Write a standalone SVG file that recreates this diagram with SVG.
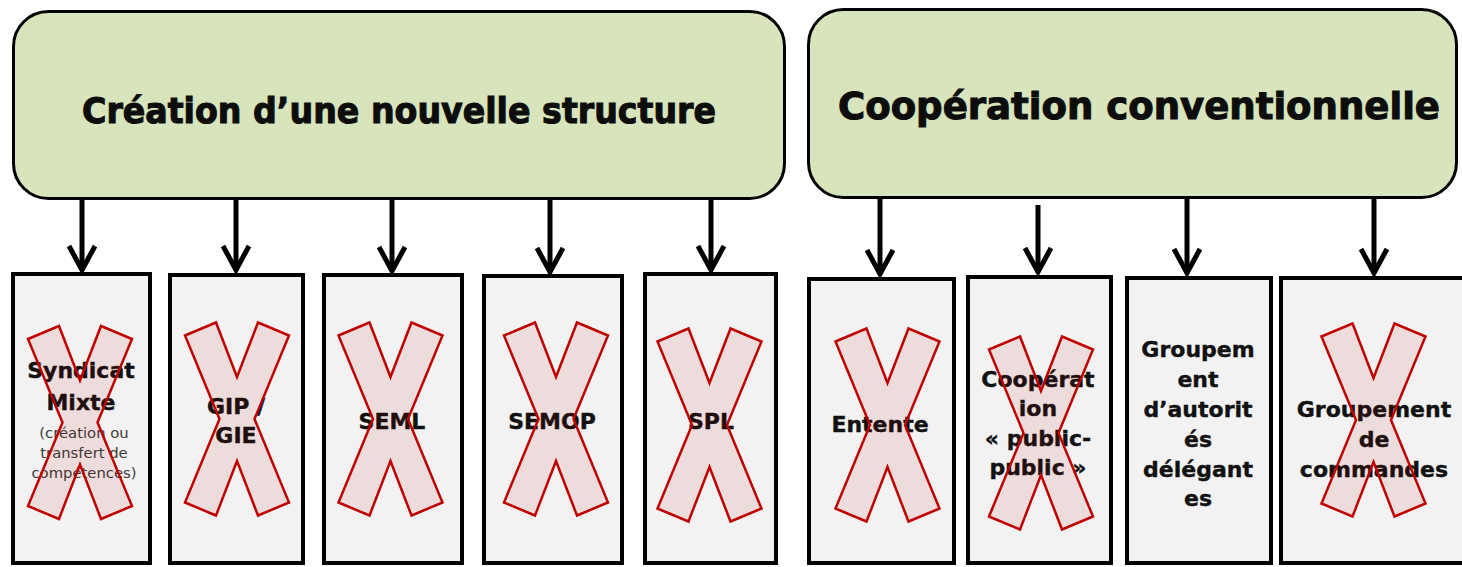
<svg xmlns="http://www.w3.org/2000/svg" width="1462" height="567" viewBox="0 0 1462 567">
<style>
.hdr{fill:#d7e4bc;stroke:#000;stroke-width:3}
.htxt{font-family:"DejaVu Sans",Verdana,sans-serif;font-weight:bold;fill:#0d0d0d;stroke:#0d0d0d;stroke-width:1.1;text-anchor:middle}
.box{fill:#f2f2f2;stroke:#000;stroke-width:4}
.lbl{font-family:"DejaVu Sans",Verdana,sans-serif;font-weight:bold;font-size:22px;fill:#111;stroke:#111;stroke-width:0.4;text-anchor:middle}
.small{font-family:"DejaVu Sans",Verdana,sans-serif;font-size:14.8px;fill:#3a3a3a;text-anchor:middle}
.x{fill:#c00000;fill-opacity:0.09;stroke:#c00000;stroke-width:2.5;stroke-linejoin:miter}
.arr line,.arr path{fill:none;stroke:#000;stroke-width:5}
</style>
<defs>
<path id="cross" d="M-52,-83.5 L-21,-96.5 L0,-42 L21,-96.5 L52,-83.5 L17.5,0 L52,83.5 L21,96.5 L0,42 L-21,96.5 L-52,83.5 L-17.5,0 Z"/>
</defs>

<g id="header-creation">
<rect class="hdr" x="13.5" y="11.5" width="771" height="187" rx="35"/>
<text class="htxt" x="399" y="123" font-size="36" textLength="634" lengthAdjust="spacingAndGlyphs">Création d’une nouvelle structure</text>
</g>
<g id="header-cooperation">
<rect class="hdr" x="808.5" y="9.5" width="648" height="188" rx="35"/>
<text class="htxt" x="1139" y="119" font-size="38" textLength="602" lengthAdjust="spacingAndGlyphs">Coopération conventionnelle</text>
</g>

<g id="connectors" class="arr">
<line x1="82" y1="200" x2="82" y2="269"/><path d="M69,246 L82,270 L95,246"/>
<line x1="236" y1="200" x2="236" y2="269"/><path d="M223,246 L236,270 L249,246"/>
<line x1="392" y1="200" x2="392" y2="270"/><path d="M379,247 L392,271 L405,247"/>
<line x1="550" y1="200" x2="550" y2="271"/><path d="M537,248 L550,272 L563,248"/>
<line x1="711" y1="200" x2="711" y2="269"/><path d="M698,246 L711,270 L724,246"/>
<line x1="880" y1="199" x2="880" y2="273"/><path d="M867,250 L880,274 L893,250"/>
<line x1="1038" y1="205" x2="1038" y2="271"/><path d="M1025,248 L1038,272 L1051,248"/>
<line x1="1187" y1="199" x2="1187" y2="272"/><path d="M1174,249 L1187,273 L1200,249"/>
<line x1="1374" y1="199" x2="1374" y2="272"/><path d="M1361,249 L1374,273 L1387,249"/>
</g>

<g id="node-syndicat">
<rect class="box" x="13" y="274" width="137" height="289"/>
<text class="lbl" x="81" y="378">Syndicat</text>
<text class="lbl" x="81" y="410">Mixte</text>
<text class="small" x="84" y="438">(création ou</text>
<text class="small" x="84" y="458">transfert de</text>
<text class="small" x="84" y="478">compétences)</text>
<use href="#cross" class="x" x="80" y="422.5"/>
</g>
<g id="node-gip">
<rect class="box" x="170" y="275" width="133" height="288"/>
<text class="lbl" x="236" y="414">GIP /</text>
<text class="lbl" x="236" y="443">GIE</text>
<use href="#cross" class="x" x="237" y="419"/>
</g>
<g id="node-seml">
<rect class="box" x="324" y="275" width="138" height="288"/>
<text class="lbl" x="392" y="429">SEML</text>
<use href="#cross" class="x" x="390.5" y="419"/>
</g>
<g id="node-semop">
<rect class="box" x="484" y="276" width="138" height="287"/>
<text class="lbl" x="552" y="429">SEMOP</text>
<use href="#cross" class="x" x="556" y="419"/>
</g>
<g id="node-spl">
<rect class="box" x="645" y="274" width="131" height="289"/>
<text class="lbl" x="711" y="429">SPL</text>
<use href="#cross" class="x" x="709.5" y="425"/>
</g>
<g id="node-entente">
<rect class="box" x="809" y="279" width="145" height="284"/>
<text class="lbl" x="880" y="432">Entente</text>
<use href="#cross" class="x" x="887.5" y="425"/>
</g>
<g id="node-cooperation-pp">
<rect class="box" x="968" y="277" width="143" height="286"/>
<text class="lbl" x="1038" y="387">Coopérat</text>
<text class="lbl" x="1038" y="416">ion</text>
<text class="lbl" x="1038" y="446">« public-</text>
<text class="lbl" x="1038" y="475">public »</text>
<use href="#cross" class="x" x="1041" y="433"/>
</g>
<g id="node-groupement-autorites">
<rect class="box" x="1127" y="278" width="144" height="285"/>
<text class="lbl" x="1198" y="357">Groupem</text>
<text class="lbl" x="1198" y="387">ent</text>
<text class="lbl" x="1198" y="417">d’autorit</text>
<text class="lbl" x="1198" y="447">és</text>
<text class="lbl" x="1198" y="477">délégant</text>
<text class="lbl" x="1198" y="506">es</text>
</g>
<g id="node-groupement-commandes">
<rect class="box" x="1281" y="278" width="190" height="285"/>
<text class="lbl" x="1374" y="417">Groupement</text>
<text class="lbl" x="1374" y="447">de</text>
<text class="lbl" x="1374" y="477">commandes</text>
<use href="#cross" class="x" x="1373.5" y="420"/>
</g>
</svg>
